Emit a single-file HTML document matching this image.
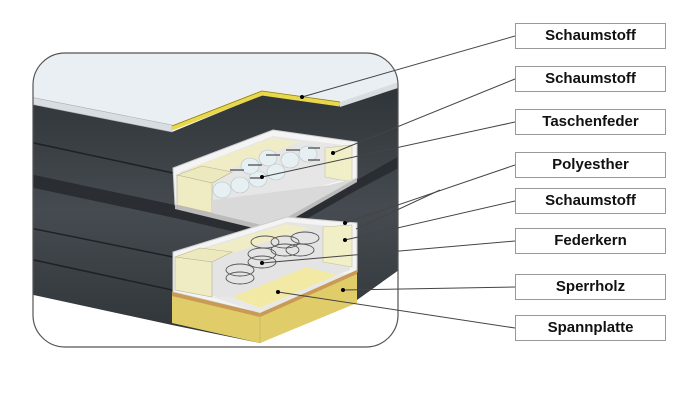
<!DOCTYPE html>
<html><head><meta charset="utf-8"><style>
body{margin:0;background:#fff;width:697px;height:400px;overflow:hidden}
.lb{position:absolute;left:515px;width:149px;height:24px;border:1px solid #999;background:#fff;font:bold 15px "Liberation Sans",sans-serif;text-align:center;line-height:24px;color:#111}
</style></head><body>
<svg width="697" height="400" style="position:absolute;left:0;top:0">
<defs>
<clipPath id="fr"><rect x="33" y="53" width="365" height="294" rx="32"/></clipPath>
<linearGradient id="dk" x1="0" y1="0" x2="0" y2="1"><stop offset="0" stop-color="#2e3337"/><stop offset="0.5" stop-color="#454b50"/><stop offset="1" stop-color="#2f3438"/></linearGradient>
</defs>
<g clip-path="url(#fr)">
<rect x="0" y="0" width="697" height="400" fill="#fff"/>
<!-- dark body -->
<polygon points="20,100 172,132 262,95 340,105 410,78 410,262 357,300 260,343 172,325 20,292" fill="url(#dk)"/>
<!-- seams -->
<polyline points="20,140 173,173" stroke="#1e2226" stroke-width="1.5" fill="none"/>
<polygon points="20,172 175,205 270,227 357,180 410,150 410,162 357,190 270,240 175,218 20,185" fill="#2a2e32"/>
<polyline points="20,226 173,257" stroke="#1e2226" stroke-width="1.5" fill="none"/>
<polyline points="20,257 172,290" stroke="#1e2226" stroke-width="1.5" fill="none"/>
<!-- foam top -->
<polygon points="20,40 410,40 410,78 340,102 262,90 172,125 20,95" fill="#e9eff3"/>
<polygon points="20,95 172,125 172,132 20,102" fill="#d8dde0" stroke="#aab" stroke-width=".6"/>
<polygon points="340,102 410,78 410,84 340,107" fill="#d8dde0"/>
<polyline points="172,128 262,93 340,104" stroke="#e8d84a" stroke-width="5" fill="none"/>
<polyline points="172,126 262,91 340,102" stroke="#8a7d30" stroke-width=".8" fill="none"/>
<!-- upper box -->
<polygon points="173,168 273,130 357,142 357,178 270,227 175,205" fill="#f4f4f4" stroke="#ccc"/>
<polygon points="180,172 273,136 350,146 350,178 270,200 180,205" fill="#e6e6e6"/>
<polygon points="190,168 272,138 300,142 215,175" fill="#f0ecc6"/>
<g fill="#e6f0f3" stroke="#b8c4c8" stroke-width=".6">
<ellipse cx="222" cy="190" rx="9" ry="8"/><ellipse cx="240" cy="185" rx="9" ry="8"/><ellipse cx="258" cy="179" rx="9" ry="8"/><ellipse cx="276" cy="172" rx="9" ry="8"/>
<ellipse cx="290" cy="160" rx="9" ry="8"/><ellipse cx="308" cy="154" rx="9" ry="8"/><ellipse cx="268" cy="158" rx="9" ry="8"/><ellipse cx="250" cy="166" rx="9" ry="8"/>
</g>
<g stroke="#444" stroke-width="1.2"><line x1="230" y1="170" x2="244" y2="170"/><line x1="248" y1="165" x2="262" y2="165"/><line x1="266" y1="155" x2="280" y2="155"/><line x1="286" y1="150" x2="300" y2="150"/><line x1="308" y1="148" x2="320" y2="148"/><line x1="308" y1="160" x2="320" y2="160"/><line x1="250" y1="178" x2="262" y2="178"/></g>
<polygon points="325,148 352,145 352,182 325,177" fill="#f1efc8" stroke="#c8c49a" stroke-width=".6"/>
<polygon points="177,175 202,166 232,172 212,183" fill="#ede9bf" stroke="#b8b38a" stroke-width=".6"/>
<polygon points="177,175 212,183 212,213 177,205" fill="#efecc4" stroke="#b8b38a" stroke-width=".6"/>
<polygon points="175,205 212,213 270,227 357,178 357,182 270,232 175,209" fill="#bbb"/>
<polygon points="212,200 330,185 357,178 270,227 212,213" fill="#d9d9d9"/>
<!-- lower box -->
<polygon points="173,252 287,217 357,223 357,272 260,313 173,292" fill="#f4f4f4" stroke="#ccc"/>
<polygon points="180,255 287,222 350,228 350,270 260,305 180,290" fill="#e4e4e4"/>
<polygon points="185,255 285,224 310,228 205,262" fill="#f0ecc6"/>
<g fill="none" stroke="#555" stroke-width=".9">
<ellipse cx="240" cy="270" rx="14" ry="6"/><ellipse cx="240" cy="278" rx="14" ry="6"/><ellipse cx="262" cy="262" rx="14" ry="6"/><ellipse cx="262" cy="254" rx="14" ry="6"/>
<ellipse cx="285" cy="250" rx="14" ry="6"/><ellipse cx="285" cy="242" rx="14" ry="6"/><ellipse cx="305" cy="238" rx="14" ry="6"/><ellipse cx="265" cy="242" rx="14" ry="6"/><ellipse cx="300" cy="250" rx="14" ry="6"/>
</g>
<polygon points="323,227 352,225 352,267 323,262" fill="#f1efc8" stroke="#c8c49a" stroke-width=".6"/>
<polygon points="175,257 200,248 232,252 212,262" fill="#ede9bf" stroke="#b8b38a" stroke-width=".6"/>
<polygon points="175,257 212,262 212,297 175,290" fill="#efecc4" stroke="#b8b38a" stroke-width=".6"/>
<polygon points="212,297 232,297 260,308 337,275 357,272 260,313" fill="#e8e8e8"/>
<polygon points="232,297 307,267 337,275 260,308" fill="#f2eaa4"/>
<!-- spannplatte -->
<polygon points="172,292 260,313 357,270 357,303 260,343 172,323" fill="#e1cc6a"/>
<polygon points="172,292 260,313 357,270 357,274 260,317 172,296" fill="#c89a55"/>
<line x1="260" y1="313" x2="260" y2="343" stroke="#c7b55c" stroke-width=".8"/>
</g>
<rect x="33" y="53" width="365" height="294" rx="32" fill="none" stroke="#555" stroke-width="1.2"/>
<g stroke="#444" stroke-width="1" fill="none">
<line x1="302" y1="97" x2="515" y2="36"/>
<line x1="333" y1="153" x2="515" y2="79"/>
<line x1="262" y1="177" x2="515" y2="122"/>
<line x1="345" y1="223" x2="515" y2="165"/>
<line x1="356" y1="229" x2="440" y2="190"/>
<line x1="345" y1="240" x2="515" y2="201"/>
<line x1="262" y1="263" x2="515" y2="241"/>
<line x1="343" y1="290" x2="515" y2="287"/>
<line x1="278" y1="292" x2="515" y2="328"/>
</g>
<g fill="#000">
<circle cx="302" cy="97" r="2"/><circle cx="333" cy="153" r="2"/><circle cx="262" cy="177" r="2"/><circle cx="345" cy="223" r="2"/><circle cx="345" cy="240" r="2"/><circle cx="262" cy="263" r="2"/><circle cx="343" cy="290" r="2"/><circle cx="278" cy="292" r="2"/>
</g>
</svg>
<div class="lb" style="top:23px">Schaumstoff</div>
<div class="lb" style="top:66px">Schaumstoff</div>
<div class="lb" style="top:109px">Taschenfeder</div>
<div class="lb" style="top:152px">Polyesther</div>
<div class="lb" style="top:188px">Schaumstoff</div>
<div class="lb" style="top:228px">Federkern</div>
<div class="lb" style="top:274px">Sperrholz</div>
<div class="lb" style="top:315px">Spannplatte</div>
</body></html>
